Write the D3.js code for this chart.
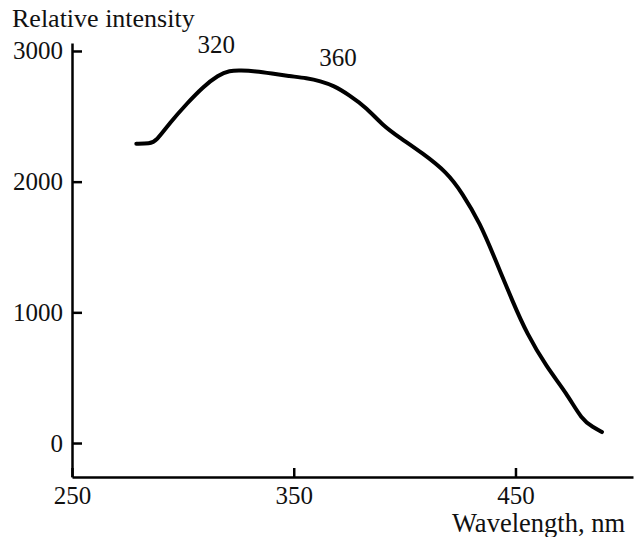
<!DOCTYPE html>
<html>
<head>
<meta charset="utf-8">
<script src="https://cdn.jsdelivr.net/npm/d3@7"></script>
<style>
  body { margin: 0; background: #fff; }
</style>
</head>
<body>
<svg id="chart" width="635" height="537"></svg>
<script>
// spectrum
const wavelength = [279, 285, 288, 294, 302, 309, 316, 321, 326, 333, 340, 348, 356, 362, 368, 375, 383, 390, 398, 408, 419, 426, 434, 441, 449, 455, 464, 473, 480, 485, 489]
const intensity = [2290, 2290, 2310, 2448, 2601, 2724, 2816, 2850, 2852, 2845, 2828, 2808, 2792, 2770, 2735, 2663, 2563, 2433, 2334, 2219, 2073, 1913, 1683, 1400, 1071, 842, 581, 383, 176, 122, 84]
const xTicks = [250, 350, 450]
const yTicks = [0, 1000, 2000, 3000]
const peakLabels = [
  { text: '320', wl: 315, val: 2985 },
  { text: '360', wl: 370, val: 2885 }
]

const serif = "'Liberation Serif', 'Times New Roman', 'DejaVu Serif', serif"
const svg = d3.select('#chart')
const margin = { left: 72, top: 43, bottom: 477, right: 633 }

const x = d3.scaleLinear().domain([250, 503]).range([margin.left, margin.right])
const y = d3.scaleLinear().domain([-260, 3061]).range([margin.bottom, margin.top])

const points = wavelength.map((w, i) => ({ w, v: intensity[i] }))

const xAxis = d3.axisBottom(x).tickValues(xTicks).tickFormat(d3.format('d'))
  .tickSizeInner(-9).tickSizeOuter(0).tickPadding(9)
const yAxis = d3.axisLeft(y).tickValues(yTicks).tickFormat(d3.format('d'))
  .tickSizeInner(-10).tickSizeOuter(0).tickPadding(9)

const gx = svg.append('g').attr('transform', `translate(0, ${margin.bottom})`).call(xAxis)
const gy = svg.append('g').attr('transform', `translate(${margin.left}, 0)`).call(yAxis)

;[gx, gy].forEach(g => {
  g.attr('font-family', null).attr('font-size', null)
  g.select('.domain').attr('stroke', '#000').attr('stroke-width', 2.5)
  g.selectAll('.tick line').attr('stroke', '#000').attr('stroke-width', 2.5)
  g.selectAll('.tick text')
    .style('font-family', serif)
    .style('font-size', '25px')
    .attr('fill', '#111')
})

svg.append('path')
  .datum(points)
  .attr('fill', 'none')
  .attr('stroke', '#000')
  .attr('stroke-width', 4)
  .attr('stroke-linecap', 'round')
  .attr('stroke-linejoin', 'round')
  .attr('d', d3.line().x(d => x(d.w)).y(d => y(d.v)).curve(d3.curveBasis))

svg.selectAll('.peak')
  .data(peakLabels)
  .enter()
  .append('text')
  .attr('class', 'peak')
  .attr('x', d => x(d.wl))
  .attr('y', d => y(d.val))
  .attr('text-anchor', 'middle')
  .style('font-family', serif)
  .style('font-size', '25px')
  .attr('fill', '#111')
  .text(d => d.text)

svg.append('text')
  .attr('x', 12)
  .attr('y', 27)
  .style('font-family', serif)
  .style('font-size', '26px')
  .attr('fill', '#111')
  .text('Relative intensity')

svg.append('text')
  .attr('x', 625)
  .attr('y', 532)
  .attr('text-anchor', 'end')
  .style('font-family', serif)
  .style('font-size', '26.5px')
  .attr('fill', '#111')
  .text('Wavelength, nm')
</script>
</body>
</html>
